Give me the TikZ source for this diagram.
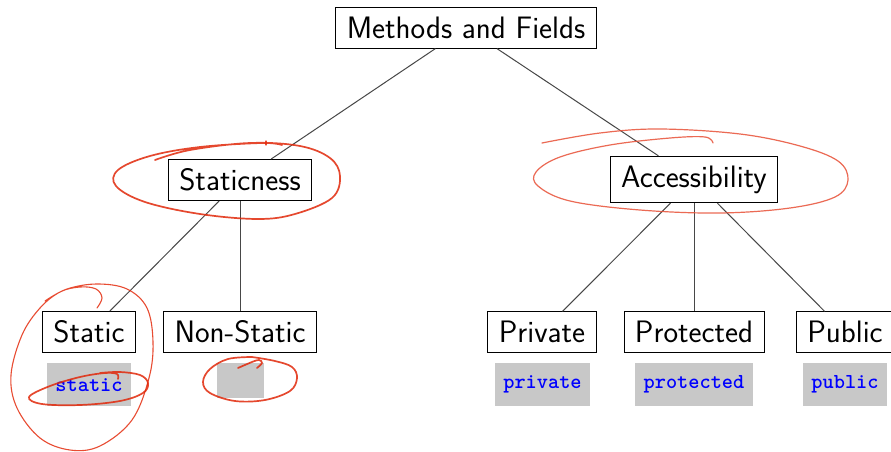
\documentclass[tikz,border=0pt]{standalone}
\begin{document}
\begin{tikzpicture}[x=1pt,y=-1pt,
  box/.style={draw=black,line width=0.9pt,fill=white,inner xsep=11pt,inner ysep=9.3pt,
    font=\sffamily\fontsize{31}{36}\selectfont},
  code/.style={fill={rgb,255:red,200;green,200;blue,200},anchor=north,inner xsep=8.5pt,
    minimum height=43pt,text=blue,font=\ttfamily\bfseries\fontsize{21.3}{24}\selectfont},
  edge/.style={draw=black!72,line width=1pt},
  mark1/.style={draw={rgb,255:red,225;green,40;blue,10},line width=1.7pt,opacity=0.85,line cap=round,line join=round},
  mark3/.style={draw={rgb,255:red,228;green,45;blue,15},line width=1.1pt,opacity=0.85,line cap=round,line join=round},
  mark2/.style={draw={rgb,255:red,232;green,80;blue,55},line width=1.2pt,opacity=0.85,line cap=round,line join=round}]
\clip (0,0) rectangle (891,452);
\fill[white] (0,0) rectangle (891,452);
\node[box] (root) at (466,28) {Methods and Fields};
\node[box] (stn) at (240,180) {Staticness};
\node[box] (acc) at (694,179.5) {Accessibility};
\node[box] (st) at (89,332) {Static};
\node[box] (nst) at (240,332) {Non-Static};
\node[box] (pri) at (542,332) {Private};
\node[box] (pro) at (694,332) {Protected};
\node[box] (pub) at (845,332) {Public};
\node[code] (cst) at (89,363) {static};
\node[code,minimum width=47pt,minimum height=35pt,inner sep=0pt] (cnst) at (240.5,363) {};
\node[code] (cpri) at (542.5,363) {private};
\node[code] (cpro) at (694,363) {protected};
\node[code] (cpub) at (845,363) {public};
\draw[edge] (root) -- (stn);
\draw[edge] (root) -- (acc);
\draw[edge] (stn) -- (st);
\draw[edge] (stn) -- (nst);
\draw[edge] (acc) -- (pri);
\draw[edge] (acc) -- (pro);
\draw[edge] (acc) -- (pub);
% hand-drawn marks
\draw[mark1] plot[smooth,tension=0.6] coordinates {(155,160) (190,150) (250,143) (300,146) (330,158) (340,176) (332,198) (295,214) (258,219) (200,214) (145,202) (116,186) (118,170) (150,156) (200,147) (262,143) (282,145)};
\draw[mark3] (266,141) -- (266,145);
\draw[mark2] plot[smooth,tension=0.6] coordinates {(542,143) (600,133) (660,129) (740,134) (800,146) (838,161) (848,180) (835,197) (790,208) (720,213) (640,210) (570,201) (538,186) (536,172) (560,157) (610,145) (670,138) (705,137) (713,143)};
\draw[mark3] plot[smooth,tension=0.6] coordinates {(97,308) (102,298) (96,289) (80,287) (60,292) (40,308) (22,335) (11,375) (17,408) (40,438) (70,450) (100,446) (132,420) (149,378) (153,342) (147,308) (127,289) (97,284) (67,289) (45,301)};
\draw[mark1] plot[smooth,tension=0.6] coordinates {(118,379) (117,374) (105,373) (80,377) (50,386) (29,397) (42,404) (80,405) (120,401) (143,393) (148,383) (140,375) (120,372) (100,373)};
\draw[mark1] plot[smooth,tension=0.6] coordinates {(238,368) (252,362) (259,360) (262,363) (257,368)};
\draw[mark1] plot[smooth,tension=0.6] coordinates {(252,357) (275,361) (292,367) (297,378) (290,391) (265,400) (235,401) (210,393) (203,382) (210,369) (228,359) (252,357)};
\end{tikzpicture}
\end{document}
